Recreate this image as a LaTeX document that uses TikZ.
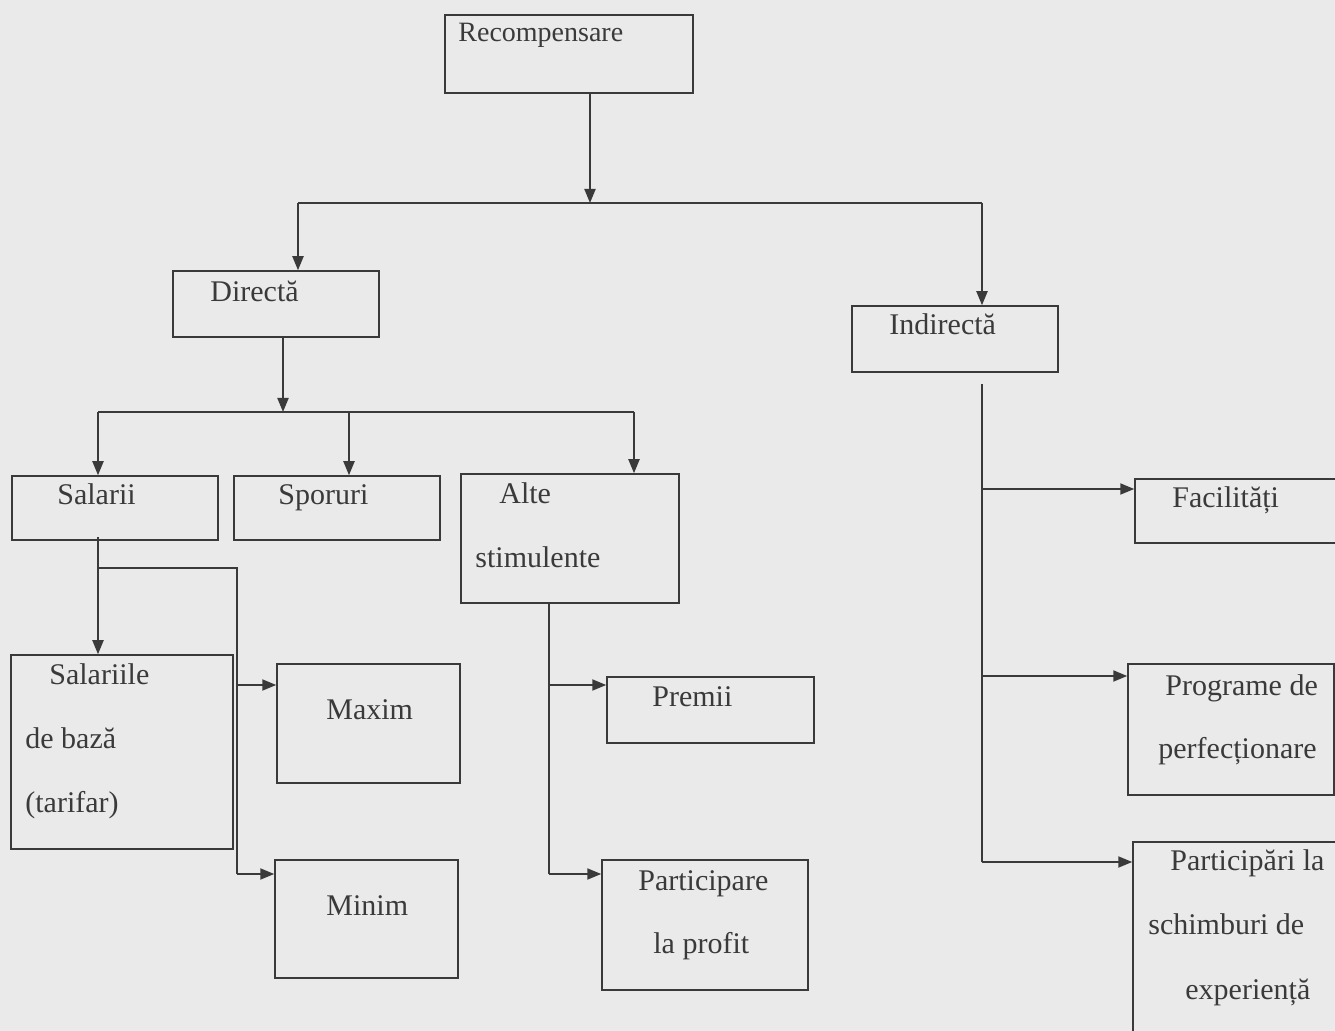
\documentclass[tikz,border=0pt]{standalone}
\usepackage{fontspec}
\setmainfont{Liberation Serif}
\usetikzlibrary{arrows.meta}
\definecolor{bgc}{HTML}{EAEAEA}
\definecolor{ink}{HTML}{3A3A3A}
\tikzset{
  box/.style={draw=ink, line width=0.75pt, rectangle, inner sep=0pt},
  txt/.style={anchor=base west, inner sep=0pt, text=ink, font=\fontsize{15}{18}\selectfont},
  conn/.style={draw=ink, line width=1pt},
  arr/.style={conn, -{Triangle[length=7pt,width=5.5pt]}}
}
\newcommand\bx[5]{\node[box,minimum width=#4*0.5pt,minimum height=#5*0.5pt] (#1) at ({#2+#4/2},{#3+#5/2}) {};}
\begin{document}
\begin{tikzpicture}[x=0.5pt,y=-0.5pt]
\fill[bgc] (0,0) rectangle (1335,1031);
\useasboundingbox (0,0) rectangle (1335,1031);
\clip (0,0) rectangle (1335,1031);
% boxes
\bx{rec}{445}{15}{248}{78}
\bx{dir}{173}{271}{206}{66}
\bx{ind}{852}{306}{206}{66}
\bx{sal}{12}{476}{206}{64}
\bx{spo}{234}{476}{206}{64}
\bx{alt}{461}{474}{218}{129}
\bx{fac}{1135}{479}{210}{64}
\bx{sb}{11}{655}{222}{194}
\bx{max}{277}{664}{183}{119}
\bx{min}{275}{860}{183}{118}
\bx{pre}{607}{677}{207}{66}
\bx{par}{602}{860}{206}{130}
\bx{prg}{1128}{664}{206}{131}
\bx{psc}{1133}{842}{212}{200}
% texts
\node[txt, font=\fontsize{14}{17}\selectfont] (t-rec) at (458,42) {Recompensare};
\node[txt] (t-dir) at (210,302) {Directă};
\node[txt] (t-ind) at (889,335) {Indirectă};
\node[txt] (t-sal) at (57,505) {Salarii};
\node[txt] (t-spo) at (278,505) {Sporuri};
\node[txt] (t-alt1) at (499,504) {Alte};
\node[txt] (t-alt2) at (475,568) {stimulente};
\node[txt] (t-fac) at (1172,508) {Facilități};
\node[txt] (t-sb1) at (49,685) {Salariile};
\node[txt] (t-sb2) at (25,749) {de bază};
\node[txt] (t-sb3) at (25,813) {(tarifar)};
\node[txt] (t-max) at (326,720) {Maxim};
\node[txt] (t-min) at (326,916) {Minim};
\node[txt] (t-pre) at (652,707) {Premii};
\node[txt] (t-par1) at (638,891) {Participare};
\node[txt] (t-par2) at (653,954) {la profit};
\node[txt] (t-prg1) at (1165,696) {Programe de};
\node[txt] (t-prg2) at (1158,759) {perfecționare};
\node[txt] (t-psc1) at (1170,871) {Participări la};
\node[txt] (t-psc2) at (1148,935) {schimburi de};
\node[txt] (t-psc3) at (1185,1000) {experiență};
% junction coordinates
\coordinate (j0) at (590,203);
\coordinate (j0l) at (298,203);
\coordinate (j0r) at (982,203);
\coordinate (j1) at (283,412);
\coordinate (j1l) at (98,412);
\coordinate (j1m) at (349,412);
\coordinate (j1r) at (634,412);
\coordinate (s0) at (98,537);
\coordinate (s1) at (98,568);
\coordinate (s2) at (237,568);
\coordinate (s3) at (237,685);
\coordinate (s4) at (237,874);
\coordinate (a0) at (549,603);
\coordinate (a1) at (549,685);
\coordinate (a2) at (549,874);
\coordinate (i0) at (982,384);
\coordinate (i1) at (982,489);
\coordinate (i2) at (982,676);
\coordinate (i3) at (982,862);
% connectors
\draw[arr] (rec.south -| j0) -- (j0);
\draw[conn] (j0l) -- (j0r);
\draw[arr] (j0l) -- (j0l |- dir.north);
\draw[arr] (j0r) -- (j0r |- ind.north);
\draw[arr] (dir.south -| j1) -- (j1);
\draw[conn] (j1l) -- (j1r);
\draw[arr] (j1l) -- (j1l |- sal.north);
\draw[arr] (j1m) -- (j1m |- spo.north);
\draw[arr] (j1r) -- (j1r |- alt.north);
\draw[arr] (s0) -- (s0 |- sb.north);
\draw[conn] (s1) -- (s2) -- (s4);
\draw[arr] (s3) -- (s3 -| max.west);
\draw[arr] (s4) -- (s4 -| min.west);
\draw[conn] (alt.south -| a0) -- (a2);
\draw[arr] (a1) -- (a1 -| pre.west);
\draw[arr] (a2) -- (a2 -| par.west);
\draw[conn] (i0) -- (i3);
\draw[arr] (i1) -- (i1 -| fac.west);
\draw[arr] (i2) -- (i2 -| prg.west);
\draw[arr] (i3) -- (i3 -| psc.west);
\end{tikzpicture}
\end{document}
